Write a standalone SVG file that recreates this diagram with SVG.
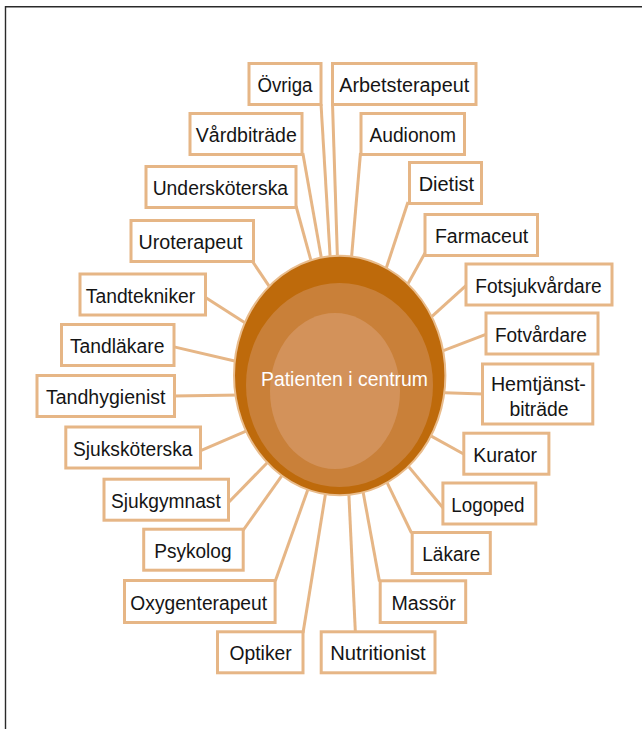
<svg xmlns="http://www.w3.org/2000/svg" width="642" height="729" viewBox="0 0 642 729">
  <style>
    .frame { stroke: #2a2a2a; stroke-width: 1.4; fill: none; }
    .link { stroke: #E6B686; stroke-width: 3; fill: none; }
    .box rect { fill: #ffffff; stroke: #E6B686; stroke-width: 3; }
    .box text { font-family: "Liberation Sans", Arial, sans-serif; font-size: 19.5px; fill: #151515; text-anchor: middle; }
    .hub text { font-family: "Liberation Sans", Arial, sans-serif; font-size: 19.5px; fill: #ffffff; text-anchor: middle; }
  </style>

  <rect width="642" height="729" fill="#ffffff"/>
  <!-- page frame: top and left rules -->
  <line class="frame" x1="5.5" y1="6.7" x2="642" y2="6.7"/>
  <line class="frame" x1="5.5" y1="6" x2="5.5" y2="729"/>

  <!-- spokes from each role to the patient -->
  <g id="connectors">
    <line class="link" x1="321" y1="104" x2="330.5" y2="263"/>
    <line class="link" x1="332.5" y1="104" x2="337.6" y2="263"/>
    <line class="link" x1="302.8" y1="153" x2="322.4" y2="263.9"/>
    <line class="link" x1="360.5" y1="153" x2="351" y2="263.5"/>
    <line class="link" x1="296" y1="206" x2="312.1" y2="264.7"/>
    <line class="link" x1="408" y1="202" x2="384.2" y2="274.3"/>
    <line class="link" x1="425" y1="253" x2="404.4" y2="290.3"/>
    <line class="link" x1="252.5" y1="261.5" x2="272.8" y2="291.6"/>
    <line class="link" x1="204" y1="296.6" x2="250" y2="326"/>
    <line class="link" x1="173" y1="346.6" x2="241.1" y2="362.5"/>
    <line class="link" x1="173" y1="396" x2="241.3" y2="394.9"/>
    <line class="link" x1="199" y1="451.3" x2="250.7" y2="429.1"/>
    <line class="link" x1="227" y1="504" x2="270.6" y2="459.3"/>
    <line class="link" x1="243" y1="530.5" x2="284.6" y2="471.8"/>
    <line class="link" x1="275.3" y1="581" x2="309.4" y2="485.2"/>
    <line class="link" x1="303" y1="633" x2="326.3" y2="488.8"/>
    <line class="link" x1="355.4" y1="633" x2="348.6" y2="488.7"/>
    <line class="link" x1="379.5" y1="581.5" x2="361.9" y2="485.4"/>
    <line class="link" x1="411.5" y1="533" x2="384.8" y2="477.8"/>
    <line class="link" x1="443.5" y1="508.5" x2="404.9" y2="462.1"/>
    <line class="link" x1="464.5" y1="454.5" x2="426.3" y2="433.4"/>
    <line class="link" x1="483" y1="394" x2="437" y2="392.4"/>
    <line class="link" x1="486.5" y1="334.2" x2="437.5" y2="352.8"/>
    <line class="link" x1="466.5" y1="285.2" x2="427.6" y2="320.4"/>
  </g>

  <!-- patient in the centre -->
  <g id="hub" class="hub">
    <ellipse cx="339.7" cy="375.5" rx="105.7" ry="119.7" fill="#BE6A0B" stroke="#E9BC8C" stroke-width="2"/>
    <ellipse cx="339.5" cy="385" rx="93.5" ry="102" fill="#C98039"/>
    <ellipse cx="335" cy="391" rx="65" ry="78" fill="#D3925A"/>
    <text x="344.5" y="385.5" textLength="167" lengthAdjust="spacingAndGlyphs">Patienten i centrum</text>
  </g>

  <!-- roles -->
  <g id="ovriga" class="box"><rect x="249" y="63.5" width="72" height="41"/><text x="285" y="92" textLength="55" lengthAdjust="spacingAndGlyphs">Övriga</text></g>
  <g id="arbetsterapeut" class="box"><rect x="332.5" y="63.5" width="143.5" height="41"/><text x="404.2" y="92" textLength="130" lengthAdjust="spacingAndGlyphs">Arbetsterapeut</text></g>
  <g id="vardbitrade" class="box"><rect x="190" y="113.5" width="112" height="41"/><text x="246.3" y="142" textLength="101" lengthAdjust="spacingAndGlyphs">Vårdbiträde</text></g>
  <g id="audionom" class="box"><rect x="361" y="113.5" width="103.5" height="41"/><text x="412.7" y="142" textLength="86.5" lengthAdjust="spacingAndGlyphs">Audionom</text></g>
  <g id="dietist" class="box"><rect x="409.5" y="162.5" width="72" height="41"/><text x="446.4" y="191" textLength="55.5" lengthAdjust="spacingAndGlyphs">Dietist</text></g>
  <g id="underskoterska" class="box"><rect x="146" y="166.5" width="150" height="41"/><text x="220.4" y="195" textLength="135.5" lengthAdjust="spacingAndGlyphs">Undersköterska</text></g>
  <g id="uroterapeut" class="box"><rect x="131" y="220.5" width="122.5" height="41"/><text x="190.6" y="249" textLength="104" lengthAdjust="spacingAndGlyphs">Uroterapeut</text></g>
  <g id="farmaceut" class="box"><rect x="425" y="214.5" width="112.5" height="41"/><text x="481.6" y="243" textLength="93.3" lengthAdjust="spacingAndGlyphs">Farmaceut</text></g>
  <g id="tandtekniker" class="box"><rect x="80" y="274" width="125.5" height="41"/><text x="140.5" y="302.5" textLength="109.5" lengthAdjust="spacingAndGlyphs">Tandtekniker</text></g>
  <g id="fotsjukvardare" class="box"><rect x="466" y="264" width="146" height="41"/><text x="538.5" y="292.5" textLength="126.5" lengthAdjust="spacingAndGlyphs">Fotsjukvårdare</text></g>
  <g id="tandlakare" class="box"><rect x="61.5" y="324.5" width="112.5" height="41"/><text x="117.2" y="353" textLength="94.5" lengthAdjust="spacingAndGlyphs">Tandläkare</text></g>
  <g id="fotvardare" class="box"><rect x="486" y="313" width="112" height="41"/><text x="540.9" y="341.5" textLength="92" lengthAdjust="spacingAndGlyphs">Fotvårdare</text></g>
  <g id="tandhygienist" class="box"><rect x="37" y="375.5" width="137.5" height="41"/><text x="105.7" y="404" textLength="119.5" lengthAdjust="spacingAndGlyphs">Tandhygienist</text></g>
  <g id="hemtjanstbitrade" class="box"><rect x="482.5" y="364" width="110.3" height="60"/><text x="538.4" y="391" textLength="95" lengthAdjust="spacingAndGlyphs">Hemtjänst-</text><text x="539" y="415.7" textLength="59.2" lengthAdjust="spacingAndGlyphs">biträde</text></g>
  <g id="sjukskoterska" class="box"><rect x="65.8" y="427" width="134.7" height="41"/><text x="132.7" y="455.5" textLength="119.5" lengthAdjust="spacingAndGlyphs">Sjuksköterska</text></g>
  <g id="kurator" class="box"><rect x="463.8" y="433.2" width="85.1" height="41"/><text x="505.2" y="461.7" textLength="63.8" lengthAdjust="spacingAndGlyphs">Kurator</text></g>
  <g id="sjukgymnast" class="box"><rect x="104" y="479.2" width="124.5" height="41"/><text x="165.9" y="507.7" textLength="109.8" lengthAdjust="spacingAndGlyphs">Sjukgymnast</text></g>
  <g id="logoped" class="box"><rect x="442.9" y="483" width="92.9" height="41"/><text x="487.9" y="511.5" textLength="73.2" lengthAdjust="spacingAndGlyphs">Logoped</text></g>
  <g id="psykolog" class="box"><rect x="143.7" y="529.2" width="99.5" height="41"/><text x="192.9" y="557.7" textLength="77.3" lengthAdjust="spacingAndGlyphs">Psykolog</text></g>
  <g id="lakare" class="box"><rect x="412.2" y="532.5" width="78.1" height="41"/><text x="451.3" y="561" textLength="58" lengthAdjust="spacingAndGlyphs">Läkare</text></g>
  <g id="oxygenterapeut" class="box"><rect x="124.5" y="580.5" width="150.6" height="42"/><text x="198.7" y="609.5" textLength="136.7" lengthAdjust="spacingAndGlyphs">Oxygenterapeut</text></g>
  <g id="massor" class="box"><rect x="380.2" y="580.8" width="85.5" height="41.7"/><text x="423.6" y="609.5" textLength="64.3" lengthAdjust="spacingAndGlyphs">Massör</text></g>
  <g id="optiker" class="box"><rect x="217.5" y="631.8" width="85.5" height="41"/><text x="260.6" y="660.3" textLength="62.2" lengthAdjust="spacingAndGlyphs">Optiker</text></g>
  <g id="nutritionist" class="box"><rect x="321.2" y="631.8" width="113.8" height="41"/><text x="378" y="660.3" textLength="95.5" lengthAdjust="spacingAndGlyphs">Nutritionist</text></g>
</svg>
